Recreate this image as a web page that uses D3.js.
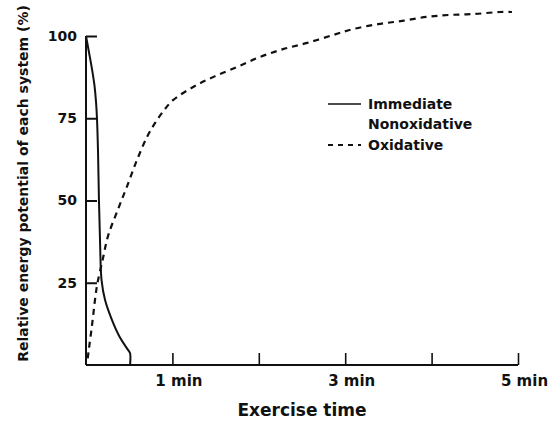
<!DOCTYPE html>
<html>
<head>
<meta charset="utf-8">
<script src="https://cdn.jsdelivr.net/npm/d3@7/dist/d3.min.js"></script>
<style>
  html, body { margin: 0; padding: 0; background: #fff; }
  svg { display: block; }
  text { font-family: "DejaVu Sans", "Liberation Sans", sans-serif; font-weight: bold; fill: #111; }
</style>
</head>
<body>
<svg id="chart" width="558" height="423"></svg>
<script>
// ---- data (minutes, % of each system's potential) ----
const immediateTime  = [0, 0.035, 0.069, 0.098, 0.116, 0.127, 0.139, 0.150, 0.163, 0.18, 0.22, 0.30, 0.39, 0.486, 0.51, 0.51];
const immediateValue = [100, 95, 90, 85, 80, 75, 65, 50, 37, 25.8, 19.8, 13.7, 8.5, 4.6, 3.6, 0];

const oxidativeTime  = [0.02, 0.035, 0.058, 0.081, 0.104, 0.13, 0.197, 0.255, 0.37, 0.475, 0.59, 0.706, 0.80, 0.90, 1.007, 1.24, 1.47, 1.75, 2.01, 2.28, 2.56, 2.86, 3.09, 3.38, 3.66, 3.94, 4.21, 4.50, 4.79, 4.93];
const oxidativeValue = [2, 5.2, 9.7, 14.6, 19.8, 24.5, 32.5, 39.2, 47.3, 54.3, 62.3, 69.3, 73.6, 77.3, 80.5, 84.5, 87.5, 90.6, 93.6, 96, 97.9, 100.3, 102.1, 103.6, 104.6, 105.8, 106.4, 106.7, 107.3, 107.3];

const yTicks = [25, 50, 75, 100];
const xTicks = [1, 2, 3, 4, 5];
const xTickLabels = {1: "1 min", 3: "3 min", 5: "5 min"};
const seriesNames = ["Immediate", "Nonoxidative", "Oxidative"];
const yTitle = "Relative energy potential of each system (%)";
const xTitle = "Exercise time";

// ---- layout ----
const svg = d3.select("#chart");
const x = d3.scaleLinear().domain([0, 5]).range([86, 518]);
const y = d3.scaleLinear().domain([0, 100]).range([365, 36]);

// y axis
const yAxis = d3.axisLeft(y).tickValues(yTicks).tickSize(-11).tickSizeOuter(0).tickPadding(9);
const gy = svg.append("g").attr("transform", `translate(${x(0)},0)`).call(yAxis);
gy.select(".domain").attr("d", `M0,${y(0)}V${y(100)}`).attr("stroke", "#111").attr("stroke-width", 2);
gy.selectAll(".tick line").attr("stroke", "#111").attr("stroke-width", 2);
gy.selectAll(".tick text").attr("font-size", 14).attr("font-family", null).attr("fill", "#111");

// x axis
const xAxis = d3.axisBottom(x).tickValues(xTicks).tickSize(-12).tickSizeOuter(0).tickPadding(8)
  .tickFormat(d => xTickLabels[d] || "");
const gx = svg.append("g").attr("transform", `translate(0,${y(0)})`).call(xAxis);
gx.select(".domain").attr("d", `M${x(0)},0H${x(5)}`).attr("stroke", "#111").attr("stroke-width", 2);
gx.selectAll(".tick line").attr("stroke", "#111").attr("stroke-width", 1.6);
gx.selectAll(".tick text").attr("font-size", 15).attr("font-family", null).attr("fill", "#111")
  .attr("dx", 6).attr("dy", "0.85em");

// curves
const immediate = immediateTime.map((t, i) => [t, immediateValue[i]]);
const oxidative = oxidativeTime.map((t, i) => [t, oxidativeValue[i]]);

svg.append("path")
  .datum(immediate)
  .attr("fill", "none").attr("stroke", "#111").attr("stroke-width", 2)
  .attr("d", d3.line().x(d => x(d[0])).y(d => y(d[1])).curve(d3.curveCatmullRom.alpha(0.5)));

svg.append("path")
  .datum(oxidative)
  .attr("fill", "none").attr("stroke", "#111").attr("stroke-width", 2.2)
  .attr("stroke-dasharray", "6,5")
  .attr("d", d3.line().x(d => x(d[0])).y(d => y(d[1])).curve(d3.curveCatmullRom.alpha(0.5)));

// legend
const lg = svg.append("g");
lg.append("line").attr("x1", 328).attr("x2", 361).attr("y1", 104).attr("y2", 104)
  .attr("stroke", "#111").attr("stroke-width", 1.6);
lg.append("text").attr("x", 368).attr("y", 108.5).attr("font-size", 14).text(seriesNames[0]);
lg.append("text").attr("x", 368).attr("y", 129).attr("font-size", 14).text(seriesNames[1]);
lg.append("line").attr("x1", 328).attr("x2", 361).attr("y1", 145).attr("y2", 145)
  .attr("stroke", "#111").attr("stroke-width", 2).attr("stroke-dasharray", "5,5");
lg.append("text").attr("x", 368).attr("y", 150).attr("font-size", 14).text(seriesNames[2]);

// axis titles
svg.append("text")
  .attr("transform", `translate(28,${(7 + 360) / 2}) rotate(-90)`)
  .attr("text-anchor", "middle").attr("font-size", 14).text(yTitle);
svg.append("text")
  .attr("x", (x(0) + x(5)) / 2).attr("y", 416)
  .attr("text-anchor", "middle").attr("font-size", 17).text(xTitle);
</script>
</body>
</html>
